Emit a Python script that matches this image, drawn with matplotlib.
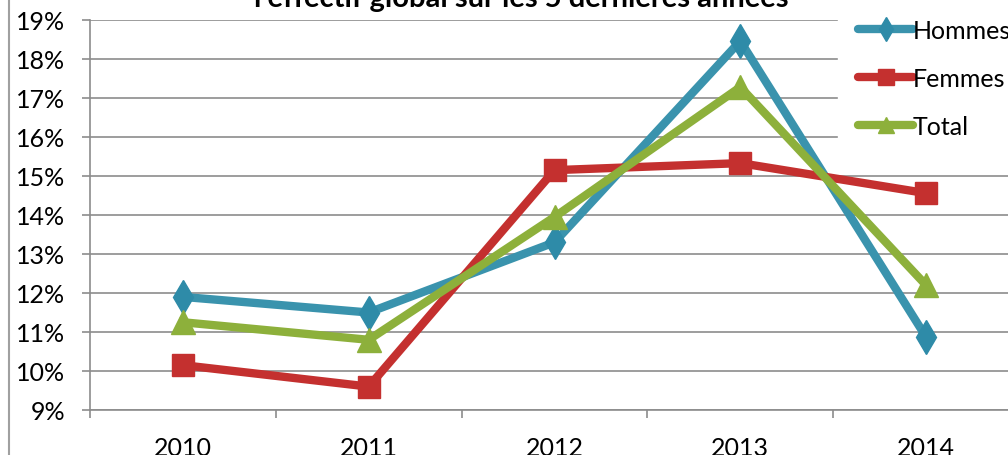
import matplotlib.pyplot as plt
from matplotlib.lines import Line2D

years = ["2010", "2011", "2012", "2013", "2014"]
hommes = [11.9, 11.5, 13.3, 18.46, 10.87]
femmes = [10.15, 9.6, 15.15, 15.33, 14.56]
total = [11.25, 10.8, 13.95, 17.28, 12.2]

c_h = "#3A93AD"
c_f = "#C4302F"
c_t = "#8DB03B"
grid = "#8C8C8C"

plt.rcParams['font.family'] = ['Lato', 'DejaVu Sans']

fig = plt.figure(figsize=(10.08, 4.56), dpi=100)
ax = fig.add_axes([90 / 1008, 45 / 456, 929 / 1008, 390 / 456])

x = range(len(years))
ax.plot(x, hommes, color=c_h, lw=6, marker="d", ms=17, mfc="#2E8BA8", mec="#2E8BA8", label="Hommes", zorder=3, solid_joinstyle="miter")
ax.plot(x, femmes, color=c_f, lw=6, marker="s", ms=16, mfc=c_f, mec=c_f, label="Femmes", zorder=4, solid_joinstyle="miter")
ax.plot(x, total, color=c_t, lw=6, marker="^", ms=17, mfc=c_t, mec=c_t, label="Total", zorder=5, solid_joinstyle="miter")

ax.set_xlim(-0.5, 4.5)
ax.set_ylim(9, 19)
ax.set_yticks(range(9, 20))
ax.set_yticklabels([f"{v}%" for v in range(9, 20)])
ax.yaxis.grid(True, color=grid, lw=1.2)
ax.set_axisbelow(True)

ax.set_xticks([i - 0.5 for i in range(6)])
ax.set_xticklabels([])
ax.set_xticks(list(x), minor=True)
ax.set_xticklabels(years, minor=True)
ax.tick_params(axis="x", which="major", direction="out", length=6, color=grid, width=1.2)
ax.tick_params(axis="x", which="minor", length=0, pad=19, labelsize=18)
ax.tick_params(axis="y", direction="out", length=6, color=grid, width=1.2, pad=12, labelsize=18)

for s in ["top", "right"]:
    ax.spines[s].set_visible(False)
for s in ["left", "bottom"]:
    ax.spines[s].set_color(grid)
    ax.spines[s].set_linewidth(1.2)

leg = ax.legend(loc="upper left", bbox_to_anchor=(838 / 1008, 1.0), bbox_transform=fig.transFigure,
                frameon=True, fontsize=18, handlelength=2.2, handletextpad=0.0,
                labelspacing=1.0, borderaxespad=0, borderpad=0.8)
leg.get_frame().set_facecolor("white")
leg.get_frame().set_edgecolor("white")
leg.get_frame().set_alpha(1)
for h in leg.legend_handles:
    h.set_markersize(12)
    h.set_solid_capstyle("round")

fig.text(0.517, 1.0 - 7 / 456, "l'effectif global sur les 5 dernières années", ha="center", va="baseline",
         fontsize=21, fontweight="bold", color="black")

fig.add_artist(Line2D([9 / 1008, 9 / 1008], [0, 1], color="#A0A0A0", lw=1.5, transform=fig.transFigure))

fig.savefig("out.png", dpi=100)
